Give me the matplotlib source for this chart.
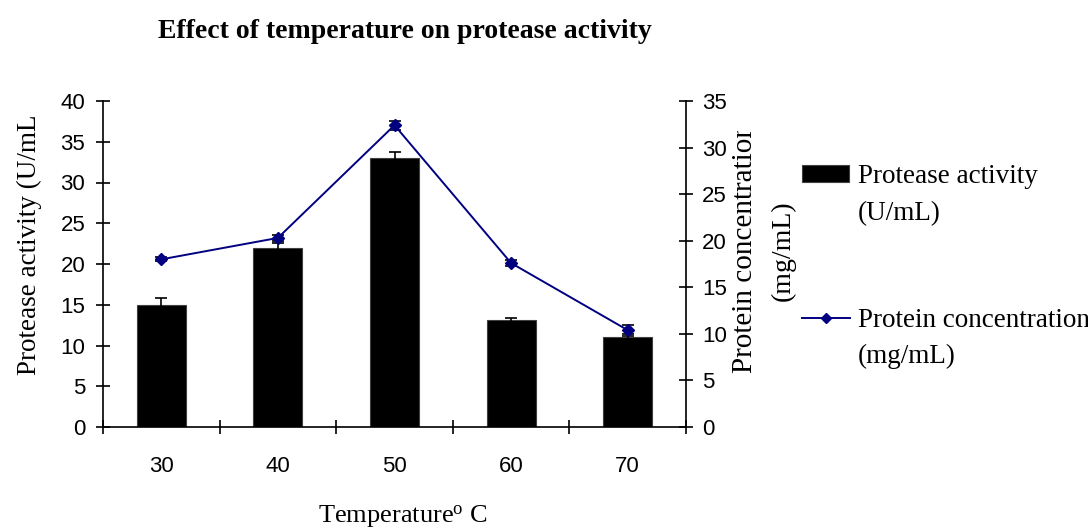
import matplotlib
matplotlib.use("Agg")
import matplotlib.pyplot as plt
from matplotlib.patches import Rectangle
from matplotlib.lines import Line2D
import numpy as np

# Data
temperatures = ["30", "40", "50", "60", "70"]
protease_activity = [15.0, 22.0, 33.0, 13.1, 11.1]      # U/mL
protease_err = [0.8, 0.6, 0.8, 0.25, 0.3]
protein_conc = [18.0, 20.3, 32.4, 17.6, 10.4]            # mg/mL
protein_err = [0.2, 0.3, 0.5, 0.3, 0.6]

left_ticks = list(range(0, 41, 5))
right_ticks = list(range(0, 36, 5))

title = "Effect of temperature on protease activity"
xlabel = r"Temperature$^{\mathrm{o}}$ C"
ylabel_left = "Protease activity (U/mL"
ylabel_right = ["Protein concentration", "(mg/mL)"]
legend_bar = ["Protease activity", "(U/mL)"]
legend_line = ["Protein concentration", "(mg/mL)"]

SERIF = "Liberation Serif"
SANS = "Liberation Sans"
NAVY = "#000080"

plt.rcParams["mathtext.fontset"] = "custom"
plt.rcParams["mathtext.rm"] = SERIF
plt.rcParams["mathtext.it"] = SERIF + ":italic"
plt.rcParams["mathtext.bf"] = SERIF + ":bold"

W, H = 1088, 532
fig = plt.figure(figsize=(W / 100, H / 100), dpi=100)
fig.patch.set_facecolor("white")

def px(x, y):
    """Pixel position (from top-left) to figure fraction."""
    return x / W, 1 - y / H

x0, x1, ytop, ybot = 103, 686, 101, 427
ax = fig.add_axes([x0 / W, 1 - ybot / H, (x1 - x0) / W, (ybot - ytop) / H])
ax2 = ax.twinx()

x = np.arange(len(temperatures))

# Bars with error bars
ax.bar(x, protease_activity, width=0.42, color="black", edgecolor="#404040",
       linewidth=0.8, zorder=2)
ax.errorbar(x, protease_activity, yerr=protease_err, fmt="none", ecolor="black",
            elinewidth=1.2, capsize=4.5, capthick=1.2, zorder=3)

# Line on secondary axis
ax2.plot(x, protein_conc, color=NAVY, lw=1.4, marker="D", markersize=6.5,
         markerfacecolor=NAVY, markeredgecolor=NAVY, zorder=3)
ax2.errorbar(x, protein_conc, yerr=protein_err, fmt="none", ecolor="black",
             elinewidth=1.2, capsize=4.5, capthick=1.2, zorder=2)

ax.set_xlim(-0.5, len(temperatures) - 0.5)
ax.set_ylim(0, 40)
ax2.set_ylim(0, 35)

# Spines
for s in ["top", "right"]:
    ax.spines[s].set_visible(False)
for s in ["top", "left", "bottom"]:
    ax2.spines[s].set_visible(False)
for a, s in [(ax, "left"), (ax, "bottom"), (ax2, "right")]:
    a.spines[s].set_linewidth(1.2)
    a.spines[s].set_color("black")

# Ticks
ax.set_yticks(left_ticks)
ax.set_yticklabels([str(t) for t in left_ticks], fontfamily=SANS, fontsize=16)
ax2.set_yticks(right_ticks)
ax2.set_yticklabels([str(t) for t in right_ticks], fontfamily=SANS, fontsize=16)
ax.tick_params(axis="y", direction="inout", length=10.5, width=1.2, pad=7.5)
ax2.tick_params(axis="y", direction="inout", length=10.5, width=1.2, pad=6.5)

ax.set_xticks(x)
ax.set_xticklabels(temperatures, fontfamily=SANS, fontsize=16)
ax.set_xticks(np.arange(-0.5, len(temperatures)), minor=True)
ax.tick_params(axis="x", which="major", length=0, pad=21)
ax.tick_params(axis="x", which="minor", direction="inout", length=10.5, width=1.2)

# Title and axis labels
fig.text(*px(405, 32), title, ha="center", va="center", fontfamily=SERIF,
         fontsize=20, fontweight="bold")
fig.text(*px(403, 517), xlabel, ha="center", va="center", fontfamily=SERIF,
         fontsize=19)

fig.text(*px(29, 375), ylabel_left, rotation=90, ha="center", va="bottom",
         fontfamily=SERIF, fontsize=19.5)
fig.text(*px(745, 373), ylabel_right[0], rotation=90, ha="center",
         va="bottom", fontfamily=SERIF, fontsize=21)
fig.text(*px(783, 251), ylabel_right[1], rotation=90, ha="center", va="center",
         fontfamily=SERIF, fontsize=20)

# The right label box ends above the plot frame: blank out what runs past
bx0, by0 = px(731, 131)
bx1, by1 = px(762, 60)
fig.add_artist(Rectangle((bx0, by0), bx1 - bx0, by1 - by0,
                         transform=fig.transFigure, facecolor="white",
                         edgecolor="none", zorder=10))

# Legend
fx0, fy0 = px(802, 182)
fx1, fy1 = px(849, 165)
fig.add_artist(Rectangle((fx0, fy0), fx1 - fx0, fy1 - fy0, transform=fig.transFigure,
                         facecolor="black", edgecolor="#404040", linewidth=0.8))
fig.text(*px(858, 183), legend_bar[0], ha="left", va="baseline",
         fontfamily=SERIF, fontsize=19.5)
fig.text(*px(858, 220), legend_bar[1], ha="left", va="baseline",
         fontfamily=SERIF, fontsize=19.5)

lx0, ly = px(802, 318)
lx1, _ = px(850, 318)
lxm, _ = px(826, 318)
fig.add_artist(Line2D([lx0, lx1], [ly, ly], transform=fig.transFigure,
                      color=NAVY, lw=1.4))
fig.add_artist(Line2D([lxm], [ly], transform=fig.transFigure, color=NAVY,
                      marker="D", markersize=5.5, markerfacecolor=NAVY,
                      markeredgecolor=NAVY))
fig.text(*px(858, 327), legend_line[0], ha="left", va="baseline",
         fontfamily=SERIF, fontsize=19.5)
fig.text(*px(858, 363), legend_line[1], ha="left", va="baseline",
         fontfamily=SERIF, fontsize=19.5)

fig.savefig("out.png", dpi=100, facecolor="white")
